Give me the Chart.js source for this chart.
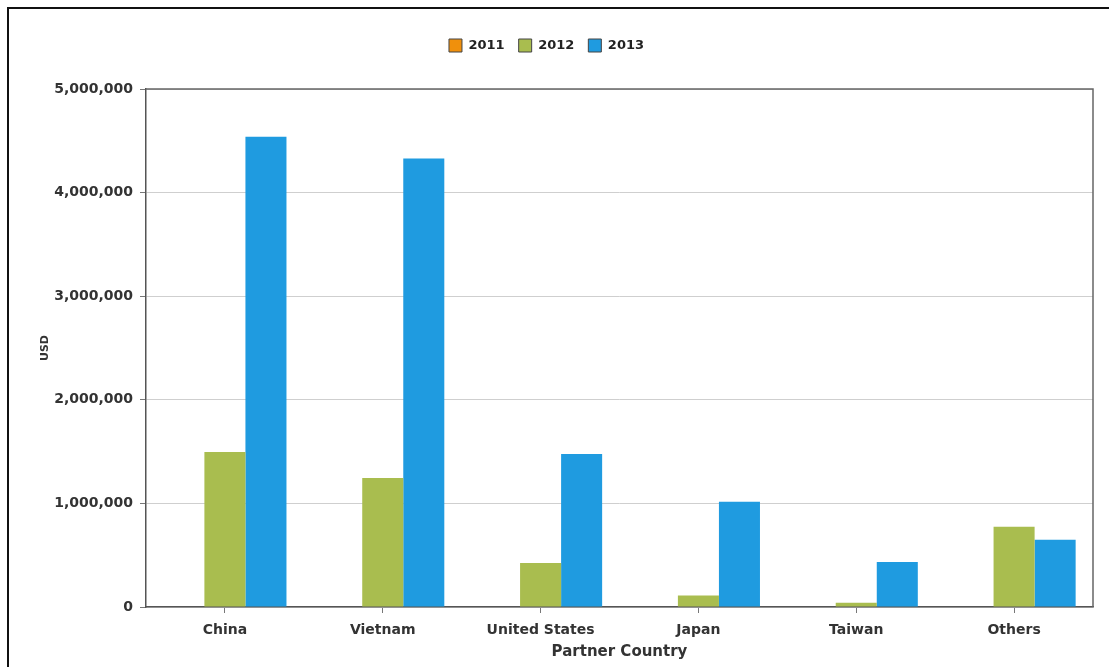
<!DOCTYPE html>
<html>
<head>
<meta charset="utf-8">
<script src="https://cdn.jsdelivr.net/npm/chart.js@4"></script>
<style>
  body { margin: 0; background: #fff; }
  #wrap { position: relative; width: 1109px; height: 667px; overflow: hidden; }
  #frame { position: absolute; left: 7px; top: 7px; width: 1200px; height: 800px;
           border-top: 2px solid #111; border-left: 2px solid #111; }
  canvas { position: absolute; left: 0; top: 0; }
</style>
</head>
<body>
<div id="wrap">
  <div id="frame"></div>
  <canvas id="barChart" width="1109" height="667"></canvas>
</div>
<script>
const countries = ['China', 'Vietnam', 'United States', 'Japan', 'Taiwan', 'Others'];
const years = ['2011', '2012', '2013'];
const usd2011 = [null, null, null, null, null, null];
const usd2012 = [1495000, 1245000, 425000, 110000, 42000, 775000];
const usd2013 = [4540000, 4330000, 1478000, 1015000, 435000, 648000];
const yTicks = [0, 1000000, 2000000, 3000000, 4000000, 5000000];

// frame round the plot (top and right side), extra room under the legend
const plotFrame = {
    id: 'plotFrame',
    afterInit(chart) {
        const lg = chart.legend;
        const fit = lg.fit;
        lg.fit = function () {
            fit.call(this);
            this.height += 27;
        };
    },
    afterDraw(chart) {
        const a = chart.chartArea;
        const c = chart.ctx;
        c.save();
        c.strokeStyle = '#666';
        c.lineWidth = 1.5;
        c.beginPath();
        c.moveTo(a.left, a.top);
        c.lineTo(a.right, a.top);
        c.lineTo(a.right, a.bottom);
        c.stroke();
        c.restore();
    }
};

const ctx = document.getElementById('barChart').getContext('2d');
new Chart(ctx, {
    type: 'bar',
    data: {
        labels: countries,
        datasets: [
            { label: years[0], data: usd2011, backgroundColor: '#f0900c' },
            { label: years[1], data: usd2012, backgroundColor: '#a9bd4f' },
            { label: years[2], data: usd2013, backgroundColor: '#1f9be0' }
        ]
    },
    options: {
        responsive: false,
        animation: false,
        categoryPercentage: 0.78,
        barPercentage: 1,
        layout: { padding: { left: 0, right: 16, top: 25, bottom: 0 } },
        plugins: {
            legend: {
                position: 'top',
                labels: {
                    boxWidth: 13,
                    boxHeight: 13,
                    padding: 14,
                    color: '#222',
                    font: { family: 'DejaVu Sans', size: 13, weight: 'bold' },
                    generateLabels: function (chart) {
                        const items = Chart.defaults.plugins.legend.labels.generateLabels(chart);
                        items.forEach(function (it) {
                            it.strokeStyle = '#444';
                            it.lineWidth = 1;
                        });
                        return items;
                    }
                }
            },
            tooltip: { enabled: false }
        },
        scales: {
            x: {
                afterFit: function (s) { s.height = 60; },
                grid: { display: true, drawOnChartArea: false, offset: false, tickLength: 6, tickColor: '#777' },
                border: { display: true, color: '#555', width: 1.5 },
                ticks: {
                    padding: 9,
                    color: '#333',
                    font: { family: 'DejaVu Sans', size: 14, weight: 'bold' }
                },
                title: {
                    display: true,
                    text: 'Partner Country',
                    color: '#333',
                    padding: { top: 0, bottom: 6 },
                    font: { family: 'DejaVu Sans', size: 15, weight: 'bold' }
                }
            },
            y: {
                min: 0,
                max: 5000000,
                afterFit: function (s) { s.width = 146; },
                afterBuildTicks: function (s) { s.ticks = yTicks.map(function (v) { return { value: v }; }); },
                grid: { color: '#cfcfcf', lineWidth: 1, tickLength: 6, tickColor: '#777' },
                border: { display: true, color: '#555', width: 1.5 },
                ticks: {
                    padding: 7,
                    color: '#333',
                    font: { family: 'DejaVu Sans', size: 14, weight: 'bold' },
                    callback: function (v) { return v.toLocaleString('en-US'); }
                },
                title: {
                    display: true,
                    text: 'USD',
                    color: '#333',
                    padding: { top: 39, bottom: 0 },
                    font: { family: 'DejaVu Sans', size: 11, weight: 'bold' }
                }
            }
        }
    },
    plugins: [plotFrame]
});
</script>
</body>
</html>
